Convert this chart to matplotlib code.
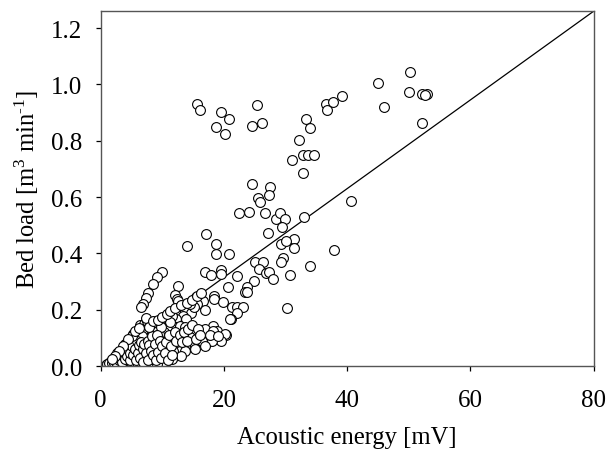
import matplotlib
matplotlib.use("Agg")
import matplotlib.pyplot as plt

plt.rcParams['font.family'] = ['Liberation Serif', 'DejaVu Serif']
plt.rcParams['mathtext.fontset'] = 'custom'
plt.rcParams['mathtext.rm'] = 'Liberation Serif'
plt.rcParams['mathtext.it'] = 'Liberation Serif:italic'
plt.rcParams['mathtext.bf'] = 'Liberation Serif:bold'

# ---- data ----
upper_x = [15.7, 16.1, 19.6, 20.9, 18.7, 20.1, 25.4, 24.6, 26.2,
           33.3, 34.0, 32.2, 31.1, 32.8, 33.7, 34.6, 32.8,
           36.6, 36.8, 37.7, 39.1,
           45.0, 50.2, 50.0, 46.0, 52.2, 53.0, 52.6, 52.2,
           24.5, 27.5, 27.3, 25.6, 25.9, 40.7]
upper_y = [0.930, 0.909, 0.901, 0.878, 0.848, 0.824, 0.927, 0.852, 0.864,
           0.877, 0.844, 0.804, 0.733, 0.749, 0.749, 0.749, 0.684,
           0.929, 0.909, 0.939, 0.960,
           1.005, 1.044, 0.973, 0.920, 0.966, 0.966, 0.962, 0.863,
           0.646, 0.635, 0.606, 0.598, 0.581, 0.587]

mid_x = [22.5, 24.1, 26.6, 28.5, 29.1, 29.9, 33.0, 29.4, 27.1, 31.3, 29.3, 30.0,
         31.4, 17.1, 14.0, 18.7, 18.7, 20.9, 29.6, 29.2, 37.8, 34.0, 25.0, 26.4,
         25.7, 26.8, 27.4, 27.9, 30.7, 24.9, 22.1, 19.5, 19.5, 16.9, 17.9, 9.9, 9.1]
mid_y = [0.542, 0.548, 0.542, 0.522, 0.542, 0.522, 0.530, 0.493, 0.471, 0.451, 0.434, 0.443,
         0.420, 0.470, 0.427, 0.432, 0.398, 0.398, 0.384, 0.368, 0.411, 0.356, 0.368, 0.368,
         0.346, 0.332, 0.335, 0.309, 0.323, 0.303, 0.321, 0.342, 0.327, 0.333, 0.323, 0.335, 0.315]

low_x = [20.7, 23.8, 23.4, 23.8, 12.6, 12.1, 12.4, 15.5, 18.4, 18.4, 16.6, 19.9,
         21.3, 22.1, 23.1, 22.1, 21.1, 30.3, 16.9, 15.6, 14.6, 13.7, 14.6, 15.1,
         14.5, 13.4, 12.3, 13.9, 11.5, 8.5, 7.7, 7.4, 6.9, 6.5, 12.5]
low_y = [0.281, 0.282, 0.262, 0.262, 0.285, 0.253, 0.238, 0.244, 0.248, 0.238, 0.232, 0.228,
         0.208, 0.208, 0.208, 0.190, 0.167, 0.205, 0.200, 0.220, 0.208, 0.196, 0.188, 0.211,
         0.220, 0.179, 0.167, 0.167, 0.179, 0.291, 0.260, 0.240, 0.220, 0.208, 0.232]

lobe_x = [11.8, 12.9, 13.7, 18.2, 18.8, 16.7, 17.2, 20.3, 15.0, 14.5, 13.4, 17.2,
          16.4, 14.8, 13.7, 12.6, 11.8, 12.9, 11.8, 13.7, 11.8, 16.9, 18.3, 20.2,
          21.0, 19.6, 18.0, 16.9, 15.3, 13.1, 11.5, 10.5, 9.9, 10.8, 10.2, 10.8,
          11.2, 9.6, 10.3]
lobe_y = [0.143, 0.143, 0.137, 0.143, 0.125, 0.120, 0.120, 0.111, 0.114, 0.102, 0.099, 0.086,
          0.090, 0.072, 0.072, 0.078, 0.096, 0.054, 0.054, 0.054, 0.032, 0.131, 0.125, 0.114,
          0.167, 0.090, 0.090, 0.072, 0.060, 0.037, 0.025, 0.012, 0.007, 0.060, 0.100, 0.130,
          0.155, 0.150, 0.120]

core_x = [0.8, 1.2, 1.6, 2.0, 2.4, 2.8, 3.2, 3.6, 4.0, 4.5, 5.0, 5.5, 6.0, 6.5, 7.0, 7.5,
          8.0, 8.6, 9.2,
          1.5, 2.1, 2.6, 3.0, 3.5, 4.1, 4.6, 5.2, 5.8, 6.3, 6.9, 7.4, 8.1, 8.7, 9.4,
          2.7, 3.3, 3.8, 4.3, 4.9, 5.4, 6.0, 6.6, 7.2, 7.8, 8.4, 9.0, 9.7,
          4.0, 4.6, 5.1, 5.7, 6.2, 6.8, 7.3, 8.0, 8.6, 9.2,
          5.3, 6.0, 6.6, 7.1, 7.7, 8.3, 8.9, 9.5,
          6.4, 7.0, 7.5, 8.1, 8.7, 7.3, 6.7, 9.8]
core_y = [0.002, 0.004, 0.003, 0.006, 0.002, 0.008, 0.004, 0.010, 0.003, 0.008, 0.005, 0.012,
          0.004, 0.010, 0.006, 0.012, 0.005, 0.010, 0.006,
          0.015, 0.020, 0.025, 0.018, 0.030, 0.022, 0.035, 0.028, 0.038, 0.025, 0.035, 0.028,
          0.038, 0.030, 0.040,
          0.045, 0.050, 0.055, 0.048, 0.060, 0.052, 0.065, 0.055, 0.068, 0.058, 0.070, 0.062, 0.075,
          0.078, 0.085, 0.092, 0.080, 0.095, 0.085, 0.100, 0.090, 0.100, 0.088,
          0.112, 0.118, 0.125, 0.115, 0.128, 0.118, 0.130, 0.115,
          0.145, 0.150, 0.160, 0.148, 0.155, 0.170, 0.105, 0.140]

extra_x = [1.0, 1.4, 1.8, 2.2, 2.5, 2.9, 3.1, 3.4, 3.7, 3.9, 4.2, 4.4, 4.7, 4.8, 5.1, 5.3,
           5.6, 5.7, 5.9, 6.1, 6.2, 6.4, 6.6, 6.8, 6.9, 7.1, 7.3, 7.6, 7.7, 7.9, 8.2, 8.3,
           8.5, 8.8, 9.0, 9.1, 9.3, 9.6, 9.8, 10.0, 10.4, 10.6, 10.9, 11.1, 11.4, 11.6,
           12.0, 12.2, 12.8, 13.2, 13.5, 14.0, 14.2, 14.8, 15.5, 15.8, 16.2, 17.8, 19.0,
           5.0, 5.5, 6.2, 4.4, 3.6, 3.0, 2.3, 1.9, 7.9, 8.5, 9.3, 10.0, 10.7, 11.3, 12.0,
           13.0, 14.0, 14.8, 15.6, 16.3]
extra_y = [0.008, 0.010, 0.012, 0.010, 0.015, 0.020, 0.030, 0.015, 0.040, 0.025, 0.035, 0.060,
           0.020, 0.045, 0.070, 0.040, 0.060, 0.020, 0.090, 0.045, 0.075, 0.030, 0.085, 0.060,
           0.015, 0.080, 0.045, 0.090, 0.020, 0.075, 0.055, 0.105, 0.040, 0.080, 0.020, 0.110,
           0.050, 0.090, 0.030, 0.070, 0.045, 0.085, 0.020, 0.110, 0.070, 0.040, 0.120, 0.090,
           0.110, 0.085, 0.120, 0.090, 0.130, 0.145, 0.095, 0.130, 0.110, 0.110, 0.105,
           0.105, 0.125, 0.135, 0.095, 0.070, 0.055, 0.035, 0.025, 0.140, 0.160, 0.165, 0.175,
           0.185, 0.195, 0.205, 0.215, 0.225, 0.235, 0.250, 0.260]

fit_x = [0, 80]
fit_slope = 0.01575

x_ticks = [0, 20, 40, 60, 80]
y_ticks = [0.0, 0.2, 0.4, 0.6, 0.8, 1.0, 1.2]

xs = upper_x + mid_x + low_x + lobe_x + core_x + extra_x
ys = upper_y + mid_y + low_y + lobe_y + core_y + extra_y

fig = plt.figure(figsize=(6.07, 4.52), dpi=100)
ax = fig.add_axes([0.1659, 0.188, 0.8119, 0.7848])

ax.plot(fit_x, [fit_slope * v for v in fit_x], color='black', lw=0.9, zorder=1)
ax.scatter(xs, ys, s=50, facecolors='white', edgecolors='black', linewidths=0.8, zorder=2)

ax.set_xlim(0, 80)
ax.set_ylim(0, 1.26)
ax.set_xticks(x_ticks)
ax.set_xticklabels([str(v) for v in x_ticks])
ax.set_yticks(y_ticks)
ax.set_yticklabels([f"{v:.1f}" for v in y_ticks])

for s in ax.spines.values():
    s.set_color('#555555')
    s.set_linewidth(1.0)
ax.tick_params(axis='both', direction='out', length=3.5, width=0.9, color='black',
               labelsize=18, top=False, right=False)
ax.tick_params(axis='y', pad=10)
ax.tick_params(axis='x', pad=13)

ax.set_xlabel('Acoustic energy [mV]', fontsize=17.7, labelpad=11)
ax.set_ylabel('Bed load [m$^{3}$ min$^{\\text{-}1}$]', fontsize=17.7, labelpad=7)

fig.savefig('out.png', dpi=100)
